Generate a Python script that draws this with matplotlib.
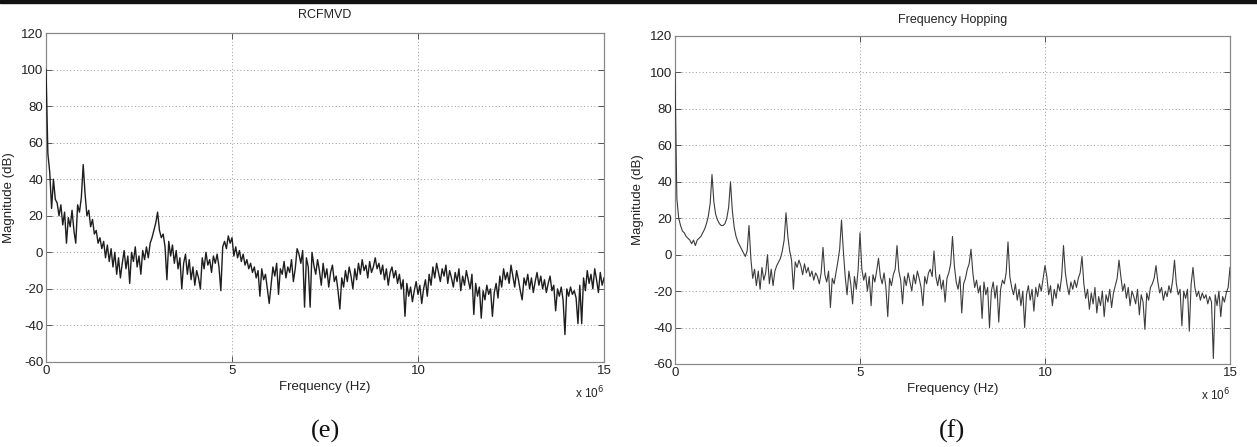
import numpy as np
import matplotlib
matplotlib.use("Agg")
import matplotlib.pyplot as plt
from matplotlib.ticker import FuncFormatter
from matplotlib.patches import Rectangle

# ---------------- data (dB, one value every 0.05 MHz from 0 to 15 MHz) ----------------
freq_step_mhz = 0.05

rcfmvd_db = [
    100, 54, 44, 24, 40, 29, 27, 20, 26, 15, 22, 5, 19, 14, 23, 12, 5, 26, 22, 30,
    48, 32, 20, 23, 14, 18, 10, 12, 5, 8, 2, 6, -3, 4, -5, 2, -8, 0, -12, -3,
    -14, -6, 1, -9, -2, -17, 0, -5, 3, -8, -2, -12, 1, -4, 3, -3, 5, 8, 12, 16,
    22, 12, 8, 10, 3, -15, 6, -2, 4, -6, 1, -9, -3, -20, -6, -1, -12, -4, -15, -8,
    -18, -10, -14, -20, -3, -9, 0, -7, -4, -11, -2, -6, -1, -8, -21, 3, 6, 2, 9, 5,
    8, -2, 3, -3, 1, -5, -1, -7, -4, -9, -6, -11, -8, -14, -10, -24, -9, -15, -12, -20,
    -28, -18, -8, -13, -6, -23, -9, -12, -5, -14, -8, -11, -4, -16, -9, 2, -1, -6, 1, -30,
    -3, -8, -30, 0, -7, -12, -4, -10, -18, -6, -14, -9, -19, -11, -7, -16, -13, -21, -31, -14,
    -19, -10, -16, -8, -13, -20, -9, -15, -6, -12, -4, -10, -7, -14, -5, -11, -8, -3, -9, -6,
    -12, -7, -15, -9, -18, -11, -8, -14, -10, -17, -12, -20, -15, -35, -17, -24, -19, -27, -21, -16,
    -23, -18, -28, -20, -15, -24, -12, -18, -8, -14, -6, -11, -16, -9, -13, -7, -17, -10, -14, -19,
    -11, -16, -9, -21, -13, -18, -10, -15, -20, -12, -34, -17, -24, -19, -36, -21, -26, -18, -23, -20,
    -35, -22, -17, -25, -13, -19, -9, -15, -11, -17, -7, -13, -19, -10, -15, -21, -26, -14, -18, -12,
    -20, -14, -22, -16, -11, -18, -13, -20, -15, -22, -17, -13, -21, -18, -32, -20, -24, -19, -26, -45,
    -20, -24, -19, -23, -21, -25, -39, -18, -39, -14, -21, -10, -17, -12, -20, -9, -15, -22, -11, -18,
    -14,
]

hopping_db = [
    100, 31, 20, 16, 13, 12, 10, 9, 8, 6, 8, 5, 8, 9, 10, 12, 14, 17, 21, 28,
    44, 29, 22, 19, 17, 16, 16, 17, 20, 26, 40, 24, 15, 10, 7, 5, 3, 1, -1, 2,
    16, -2, -13, -8, -17, -9, -19, -7, -14, -10, 0, -16, -8, -17, -9, -6, -4, -2, 2, 8,
    23, 10, 2, -3, -19, -4, -7, -3, -6, -11, -5, -10, -7, -12, -9, -14, -10, -12, -16, -10,
    4, -11, -15, -9, -29, -13, -16, -10, -4, 3, 19, 2, -12, -22, -9, -16, -27, -12, -19, -8,
    12, -8, -14, -10, -20, -12, -28, -11, -15, -9, -2, -12, -16, -10, -18, -34, -13, -17, -11, -8,
    5, -9, -14, -27, -12, -17, -10, -15, -20, -11, -16, -9, -13, -18, -28, -12, -16, -10, -8, -12,
    2, -12, -17, -11, -19, -14, -26, -13, -10, -5, 10, -6, -15, -19, -12, -32, -16, -13, -8, -5,
    3, -10, -18, -14, -21, -17, -35, -15, -22, -18, -40, -20, -15, -24, -17, -37, -19, -14, -16, -10,
    7, -12, -18, -22, -16, -25, -19, -28, -20, -40, -22, -17, -25, -19, -31, -18, -23, -16, -20, -13,
    -6, -12, -22, -17, -28, -19, -24, -16, -20, -12, 5, -10, -17, -22, -15, -19, -14, -18, -13, -10,
    -1, -16, -24, -19, -30, -21, -27, -18, -32, -23, -28, -20, -34, -22, -26, -19, -29, -21, -17, -13,
    -3, -12, -20, -16, -24, -18, -28, -20, -23, -27, -19, -33, -22, -26, -41, -21, -25, -18, -16, -13,
    -6, -15, -21, -18, -25, -20, -23, -17, -21, -14, -3, -16, -22, -19, -39, -20, -24, -19, -42, -16,
    -7, -18, -23, -20, -25, -21, -24, -22, -27, -23, -26, -57, -22, -28, -20, -34, -23, -26, -21, -18,
    -7,
]

panel_titles = ["RCFMVD", "Frequency Hopping"]
panel_tags = ["(e)", "(f)"]
y_ticks = [-60, -40, -20, 0, 20, 40, 60, 80, 100, 120]
x_ticks_mhz = [0, 5, 10, 15]

# ---------------- figure ----------------
plt.rcParams["font.family"] = ["Liberation Sans", "DejaVu Sans"]
plt.rcParams["axes.unicode_minus"] = False
fig = plt.figure(figsize=(12.57, 4.47), dpi=100)
W, H = 1257.0, 447.0

# dark band along the top edge of the scan
fig.patches.append(Rectangle((0, 1 - 3 / H), 1, 3 / H, transform=fig.transFigure,
                             color="#111111", zorder=0))

panels = [
    dict(data=rcfmvd_db, box=(46, 33, 604, 362), color="#1e1e1e", lw=1.0, title_y=15),
    dict(data=hopping_db, box=(675, 36, 1230, 364), color="#3c3c3c", lw=0.8, title_y=20),
]

for k, p in enumerate(panels):
    x0, yt, x1, yb = p["box"]
    ax = fig.add_axes([x0 / W, 1 - yb / H, (x1 - x0) / W, (yb - yt) / H])
    vals = np.asarray(p["data"], dtype=float)
    freq_hz = np.arange(len(vals)) * freq_step_mhz * 1e6
    ax.plot(freq_hz, vals, color=p["color"], lw=p["lw"], zorder=3)

    ax.set_xlim(0, 15e6)
    ax.set_ylim(-60, 120)
    ax.set_yticks(y_ticks)
    ax.set_xticks([v * 1e6 for v in x_ticks_mhz])
    ax.xaxis.set_major_formatter(FuncFormatter(lambda v, pos: f"{v / 1e6:g}"))

    ax.grid(True, linestyle=(0, (1, 2.5)), color="#9a9a9a", linewidth=0.7)
    ax.tick_params(direction="in", length=4, width=0.7, colors="#555555",
                   labelcolor="#222222", labelsize=9.5, top=True, right=True, pad=2)
    for s in ax.spines.values():
        s.set_color("#888888")
        s.set_linewidth(0.9)

    fig.text((x0 + x1) / 2 / W, 1 - p["title_y"] / H, panel_titles[k], ha="center",
             va="center", fontsize=9, color="#222222")
    ax.set_xlabel("Frequency (Hz)", fontsize=9.5, color="#222222", labelpad=3)
    ax.set_ylabel("Magnitude (dB)", fontsize=9.5, color="#222222", labelpad=4)

    ax.text(1.0, -0.068, r"x 10$^6$", transform=ax.transAxes, ha="right", va="top",
            fontsize=8.5, color="#222222")
    fig.text((x0 + x1) / 2 / W, 1 - 431 / H, panel_tags[k], ha="center", va="center",
             fontsize=19, family=["Liberation Serif", "DejaVu Serif"], color="#111111")

fig.savefig("out.png", dpi=100, facecolor="white")
